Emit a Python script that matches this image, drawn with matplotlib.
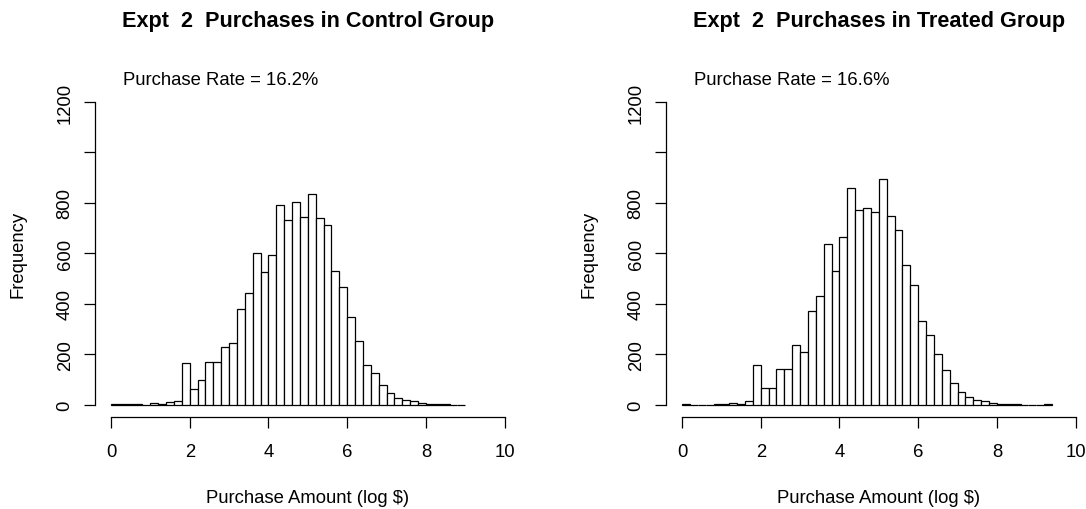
import numpy as np
import matplotlib
matplotlib.use("Agg")
from matplotlib import pyplot as plt

plt.rcParams['font.family'] = ['Liberation Sans', 'DejaVu Sans']

# histogram bins of width 0.2 on log $ scale
bin_w = 0.2

control_counts = [3, 2, 2, 5, 1, 6, 5, 10, 16, 165,
                  65, 98, 169, 172, 228, 246, 381, 442, 602, 528,
                  595, 791, 731, 803, 746, 837, 742, 714, 532, 467,
                  347, 255, 157, 128, 79, 46, 28, 18, 15, 7,
                  3, 5, 3, 0, 1]

treated_counts = [5, 1, 0, 0, 3, 5, 7, 5, 14, 157,
                  69, 69, 144, 144, 238, 211, 372, 433, 636, 529,
                  667, 858, 771, 780, 766, 896, 748, 693, 556, 477,
                  334, 277, 201, 140, 87, 51, 30, 20, 15, 7,
                  5, 5, 3, 0, 0, 0, 2]

titles = ["Expt  2  Purchases in Control Group",
          "Expt  2  Purchases in Treated Group"]
rates = ["Purchase Rate = 16.2%", "Purchase Rate = 16.6%"]

x_ticks = [0, 2, 4, 6, 8, 10]
y_ticks = [0, 200, 400, 600, 800, 1000, 1200]
y_ticklabels = ['0', '200', '400', '600', '800', '', '1200']

fs = 13.3
fig = plt.figure(figsize=(10.86, 5.10), dpi=100)

lefts = [0.0877, 0.6135]
for i, counts in enumerate([control_counts, treated_counts]):
    ax = fig.add_axes([lefts[i], 0.1802, 0.3915, 0.6416])
    edges = np.arange(len(counts)) * bin_w
    ax.bar(edges, counts, width=bin_w, align='edge',
           facecolor='white', edgecolor='black', linewidth=0.9)

    ax.set_xlim(-0.4, 10.4)
    ax.set_ylim(-48, 1248)

    for s in ['top', 'right']:
        ax.spines[s].set_visible(False)
    ax.spines['left'].set_bounds(0, 1200)
    ax.spines['bottom'].set_bounds(0, 10)
    ax.spines['left'].set_linewidth(0.9)
    ax.spines['bottom'].set_linewidth(0.9)

    ax.set_xticks(x_ticks)
    ax.set_xticklabels([str(t) for t in x_ticks], fontsize=fs)
    ax.set_yticks(y_ticks)
    ax.set_yticklabels(y_ticklabels, fontsize=fs, rotation=90, va='center')
    ax.tick_params(axis='x', length=7.9, width=0.9, pad=11)
    ax.tick_params(axis='y', length=7.9, width=0.9, pad=7.6)

    ax.text(0.5, 1.212, titles[i], transform=ax.transAxes, ha='center',
            va='center', fontsize=15.6, fontweight='bold')
    ax.text(0.30, 1291, rates[i], ha='left', va='center', fontsize=fs,
            clip_on=False)
    ax.text(0.5, -0.247, "Purchase Amount (log $)", transform=ax.transAxes,
            ha='center', va='center', fontsize=fs)
    ax.text(-0.181, 0.5, "Frequency", transform=ax.transAxes, rotation=90,
            ha='center', va='center', fontsize=fs)

fig.savefig("out.png", dpi=100)
